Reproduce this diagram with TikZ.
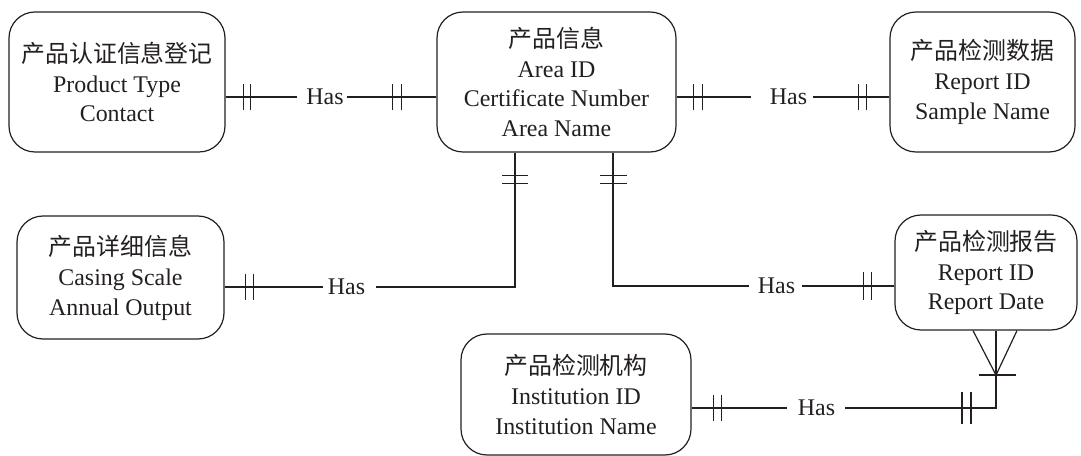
\documentclass[tikz,border=0pt]{standalone}
\usepackage{fontspec}
\setmainfont{Liberation Serif}
\newfontfamily\cjk{Noto Sans CJK SC}
\usetikzlibrary{calc}
\definecolor{ink}{HTML}{231F20}
\begin{document}
\begin{tikzpicture}[x=1bp,y=-1bp,
  ent/.style={draw=ink, rounded corners=26bp, line width=1.2bp, align=center,
    font=\fontsize{24}{30}\selectfont, text=ink, inner sep=0pt},
  has/.style={inner sep=0pt, font=\fontsize{24}{30}\selectfont, text=ink},
  conn/.style={draw=ink, line width=1.2bp}]
\useasboundingbox (0,0) rectangle (1081,456);

\node[ent, minimum width=216bp, minimum height=140bp] (b1) at (117,82)
  {{\cjk 产品认证信息登记}\\Product Type\\Contact};
\node[ent, minimum width=239bp, minimum height=140bp] (b2) at (556.5,82)
  {{\cjk 产品信息}\\Area ID\\Certificate Number\\Area Name};
\node[ent, minimum width=185bp, minimum height=140bp] (b3) at (982.5,82)
  {{\cjk 产品检测数据}\\Report ID\\Sample Name};
\node[ent, minimum width=207bp, minimum height=123bp] (b4) at (120.5,277.5)
  {{\cjk 产品详细信息}\\Casing Scale\\Annual Output};
\node[ent, minimum width=182bp, minimum height=115bp] (b5) at (986,272.5)
  {{\cjk 产品检测报告}\\Report ID\\Report Date};
\node[ent, minimum width=230bp, minimum height=121bp] (b6) at (576,394.5)
  {{\cjk 产品检测机构}\\Institution ID\\Institution Name};

\node[has] (h1) at (325,97) {Has};
\node[has] (h2) at (788.5,97) {Has};
\node[has] (h3) at (346.5,287) {Has};
\node[has] (h4) at (776.5,286) {Has};
\node[has] (h5) at (816.5,408) {Has};
\coordinate (b5s) at ($(b5.south)+(10,0)$);
\coordinate (c5) at (b5s |- h5);

% b1 - b2
\draw[conn] (b1.east|-h1) -- ([xshift=-9bp]h1.west);
\draw[conn] ([xshift=3bp]h1.east) -- (b2.west|-h1);
\draw[conn] ($(b1.east|-h1)+(18,-13)$) -- +(0,26);
\draw[conn] ($(b1.east|-h1)+(25,-13)$) -- +(0,26);
\draw[conn] ($(b2.west|-h1)+(-44,-13)$) -- +(0,26);
\draw[conn] ($(b2.west|-h1)+(-35,-13)$) -- +(0,26);

% b2 - b3
\draw[conn] (b2.east|-h2) -- ([xshift=-19bp]h2.west);
\draw[conn] ([xshift=6bp]h2.east) -- (b3.west|-h2);
\draw[conn] ($(b2.east|-h2)+(17,-13)$) -- +(0,26);
\draw[conn] ($(b2.east|-h2)+(26,-13)$) -- +(0,26);
\draw[conn] ($(b3.west|-h2)+(-31,-13)$) -- +(0,26);
\draw[conn] ($(b3.west|-h2)+(-23,-13)$) -- +(0,26);

% b2 - b4
\draw[conn] ([xshift=-41.5bp]b2.south) |- ([xshift=11bp]h3.east);
\draw[conn] ($(b2.south)+(-54.5,23)$) -- +(26,0);
\draw[conn] ($(b2.south)+(-54.5,31)$) -- +(26,0);
\draw[conn] (b4.east|-h3) -- ([xshift=-5bp]h3.west);
\draw[conn] ($(b4.east|-h3)+(21,-13)$) -- +(0,26);
\draw[conn] ($(b4.east|-h3)+(29,-13)$) -- +(0,26);

% b2 - b5
\draw[conn] ([xshift=56.5bp]b2.south) |- ([xshift=-9bp]h4.west);
\draw[conn] ($(b2.south)+(43.5,23)$) -- +(27,0);
\draw[conn] ($(b2.south)+(43.5,31)$) -- +(27,0);
\draw[conn] ([xshift=7bp]h4.east) -- (b5.west|-h4);
\draw[conn] ($(b5.west|-h4)+(-31,-14)$) -- +(0,28);
\draw[conn] ($(b5.west|-h4)+(-23,-14)$) -- +(0,28);

% b6 - b5
\draw[conn] (b6.east|-h5) -- ([xshift=-11bp]h5.west);
\draw[conn] ($(b6.east|-h5)+(22,-13)$) -- +(0,26);
\draw[conn] ($(b6.east|-h5)+(30,-13)$) -- +(0,26);
\draw[conn] ([xshift=10bp]h5.east) -- (c5) -- (b5s);
\draw[conn] ($(c5)+(-34,-16)$) -- +(0,32);
\draw[conn] ($(c5)+(-25,-16)$) -- +(0,32);
\draw[conn] ($(b5.south)+(-13,0)$) -- ($(b5.south)+(10,44.5)$) -- ($(b5.south)+(31,0)$);
\draw[conn] ($(b5.south)+(-7,44.5)$) -- +(37,0);
\end{tikzpicture}
\end{document}
